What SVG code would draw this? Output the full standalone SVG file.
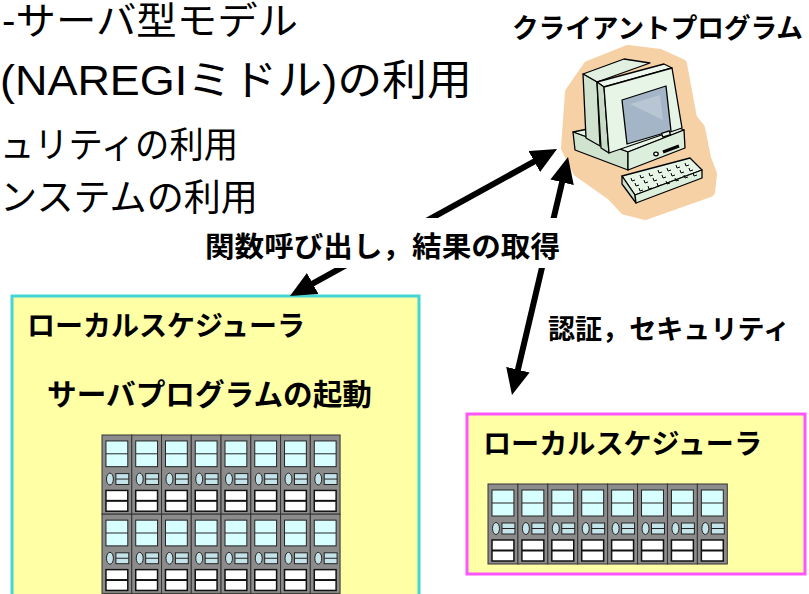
<svg xmlns="http://www.w3.org/2000/svg" xmlns:xlink="http://www.w3.org/1999/xlink" width="809" height="594" viewBox="0 0 809 594">
  <style>
    .title { font-family: 'Liberation Sans', 'Noto Sans CJK JP', sans-serif; fill: #000; }
    .lbl { font-family: 'Noto Sans CJK JP', sans-serif; font-weight: bold; fill: #000; }
    .box { fill: #ffffa6; stroke-width: 3; }
    .ln { stroke: #000; stroke-width: 1.3; stroke-linejoin: round; }
    .arrow { fill: none; stroke: #000; stroke-width: 6; marker-start: url(#head); marker-end: url(#head); }
  </style>
  <defs>
    <marker id="head" viewBox="0 0 26 24" refX="11" refY="12" markerWidth="26" markerHeight="24" markerUnits="userSpaceOnUse" orient="auto-start-reverse">
      <path d="M0,0 L26,12 L0,24 z" fill="#000"/>
    </marker>
    <!-- one rack server unit, 30 x 80 -->
    <g id="srv">
      <rect x="0" y="0" width="30" height="80" fill="#8c8c8c" stroke="#333" stroke-width="1"/>
      <rect x="4" y="6" width="22" height="26" fill="#d8ffff" stroke="#222" stroke-width="1"/>
      <line x1="4" y1="19" x2="26" y2="19" stroke="#222" stroke-width="1"/>
      <ellipse cx="8" cy="44.5" rx="3.5" ry="6" fill="#c4e4ea" stroke="#222" stroke-width="1"/>
      <rect x="14" y="39" width="13" height="11" fill="#c4e4ea" stroke="#222" stroke-width="1"/>
      <line x1="14" y1="44.5" x2="27" y2="44.5" stroke="#222" stroke-width="1"/>
      <rect x="4" y="56" width="22" height="21" fill="#fff" stroke="#111" stroke-width="1.5"/>
      <line x1="4" y1="66.5" x2="26" y2="66.5" stroke="#111" stroke-width="2"/>
    </g>
    <g id="rack8">
      <use xlink:href="#srv" x="0"/>
      <use xlink:href="#srv" x="30"/>
      <use xlink:href="#srv" x="60"/>
      <use xlink:href="#srv" x="90"/>
      <use xlink:href="#srv" x="120"/>
      <use xlink:href="#srv" x="150"/>
      <use xlink:href="#srv" x="180"/>
      <use xlink:href="#srv" x="210"/>
    </g>
  </defs>

  <rect width="809" height="594" fill="#fff"/>

  <!-- slide bullet text -->
  <g id="bullets">
    <text class="title" x="2" y="34" font-size="38" textLength="296" lengthAdjust="spacingAndGlyphs">-サーバ型モデル</text>
    <text class="title" x="0" y="95" font-size="42" textLength="472" lengthAdjust="spacingAndGlyphs">(NAREGIミドル)の利用</text>
    <text class="title" x="0" y="158" font-size="36" textLength="238" lengthAdjust="spacingAndGlyphs">ュリティの利用</text>
    <text class="title" x="0" y="211" font-size="37" textLength="258" lengthAdjust="spacingAndGlyphs">ンステムの利用</text>
  </g>

  <!-- local scheduler (left) -->
  <g id="scheduler-left">
    <rect class="box" x="12" y="296" width="407" height="330" stroke="#44d6d6"/>
    <text class="lbl" x="27" y="336" font-size="28" textLength="278" lengthAdjust="spacingAndGlyphs">ローカルスケジューラ</text>
    <text class="lbl" x="47" y="405" font-size="29.5" textLength="325" lengthAdjust="spacingAndGlyphs">サーバプログラムの起動</text>
    <g transform="translate(102,435) scale(0.992,0.99)">
      <use xlink:href="#rack8" y="0"/>
      <use xlink:href="#rack8" y="80"/>
    </g>
  </g>

  <!-- local scheduler (right) -->
  <g id="scheduler-right">
    <rect class="box" x="467" y="414" width="338" height="160" stroke="#ff55ff"/>
    <text class="lbl" x="483" y="454" font-size="28" textLength="279" lengthAdjust="spacingAndGlyphs">ローカルスケジューラ</text>
    <use xlink:href="#rack8" transform="translate(488,484) scale(0.997,1)"/>
  </g>

  <!-- client program -->
  <g id="client">
    <text class="lbl" x="512" y="38" font-size="27" textLength="291" lengthAdjust="spacingAndGlyphs">クライアントプログラム</text>
    <path d="M570,92 L588,66 L628,50 L660,54 L682,64 L692,118 L700,128 L706,158 L712,174 L710,192 L645,215 L625,210 L612,196 L578,172 L566,148 Z" fill="#f6d1a6" stroke="#f6d1a6" stroke-width="10" stroke-linejoin="round"/>
    <!-- base unit -->
    <polygon class="ln" points="573,132 652,116 684,130 628,152" fill="#e6f5e6"/>
    <polygon class="ln" points="573,132 628,152 628,170 575,150" fill="#cfe3cf"/>
    <polygon class="ln" points="628,152 684,130 685,148 628,170" fill="#dcefdc"/>
    <ellipse class="ln" cx="656" cy="154" rx="2.2" ry="1.8" fill="#fff"/>
    <line x1="663" y1="152" x2="679" y2="146" stroke="#000" stroke-width="3"/>
    <!-- monitor -->
    <polygon class="ln" points="583,74 624,59 650,63 597,82" fill="#e2f0e2"/>
    <polygon class="ln" points="583,74 597,82 600,146 586,138" fill="#cfe3cf"/>
    <polygon class="ln" points="597,82 664,64 672,68 604,87" fill="#eef8ee"/>
    <polygon class="ln" points="597,82 604,87 609,153 601,148" fill="#c8dcc8"/>
    <polygon class="ln" points="604,87 672,68 682,128 609,153" fill="#e6f5e6"/>
    <polygon class="ln" points="622,100 666,86 671,131 627,144" fill="#a3b5c6"/>
    <path d="M630,104 L660,95 L663,120 Z" fill="#b8c6d4"/>
    <rect class="ln" x="662" y="132" width="8" height="4" fill="#e6f5e6" transform="rotate(-17 666 134)"/>
    <!-- keyboard -->
    <polygon class="ln" points="622,176 690,158 702,170 635,195" fill="#e6f5e6"/>
    <polygon class="ln" points="622,176 635,195 636,203 622,184" fill="#cfe3cf"/>
    <polygon class="ln" points="635,195 702,170 702,178 636,203" fill="#dcefdc"/>
    <path d="M631,178 l1,3 l3,-1 M640,175 l1,3 l3,-1 M649,173 l1,3 l3,-1 M658,170 l1,3 l3,-1 M667,168 l1,3 l3,-1 M676,165 l1,3 l3,-1 M685,163 l1,3 l3,-1
             M635,183 l1,3 l3,-1 M644,180 l1,3 l3,-1 M653,178 l1,3 l3,-1 M662,175 l1,3 l3,-1 M671,173 l1,3 l3,-1 M680,170 l1,3 l3,-1 M689,168 l1,3 l3,-1
             M639,188 l1,3 l3,-1 M648,186 l1,3 l3,-1 M657,183 l1,3 l3,-1 M666,181 l1,3 l3,-1 M675,178 l1,3 l3,-1 M684,175 l1,3 l3,-1 M693,173 l1,3 l3,-1"
          fill="none" stroke="#000" stroke-width="1"/>
  </g>

  <!-- connectors -->
  <g id="connectors">
    <line class="arrow" x1="303.1" y1="288.8" x2="543.9" y2="156.2"/>
    <line class="arrow" x1="564.6" y1="171.6" x2="515.4" y2="380.4"/>
  </g>

  <!-- connector labels -->
  <g id="labels">
    <rect x="200" y="218" width="366" height="50" fill="#fff"/>
    <text class="lbl" x="205" y="257" font-size="28" textLength="355" lengthAdjust="spacingAndGlyphs">関数呼び出し，結果の取得</text>
    <text class="lbl" x="548" y="339" font-size="27" textLength="242" lengthAdjust="spacingAndGlyphs">認証，セキュリティ</text>
  </g>
</svg>
